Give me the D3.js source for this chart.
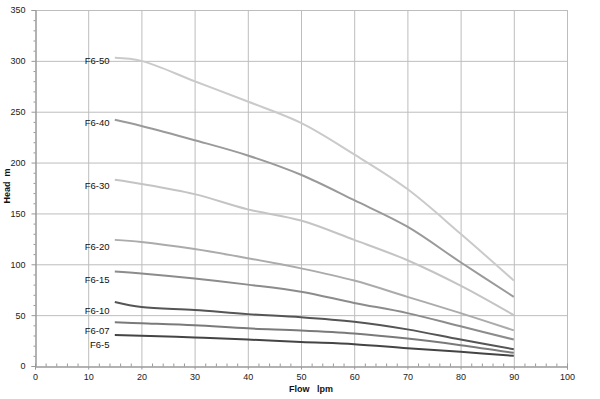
<!DOCTYPE html>
<html lang="en">
<head>
    <meta charset="UTF-8">
    <title>F6 pump curves</title>
    <style>
        body {
            margin: 0;
            background: #fff;
            font-family: "Liberation Sans", Arial, sans-serif;
        }

        .grid line {
            stroke: #bdbdbd;
            stroke-width: 1px;
        }

        .curve {
            fill: none;
            stroke-width: 2px;
        }

        .tick text {
            font-size: 9px;
            fill: #222;
        }

        .model {
            font-size: 9.5px;
            fill: #111;
            text-anchor: end;
        }

        .axis-title {
            font-size: 9px;
            font-weight: bold;
            fill: #111;
        }
    </style>
</head>
<body>
    <svg id="chart" width="600" height="399"></svg>

    <script src="https://d3js.org/d3.v7.min.js"></script>
    <script>
        // flow points (lpm) shared by every curve
        const flow = [15, 20, 30, 40, 50, 60, 70, 80, 90];

        const models = ["F6-50", "F6-40", "F6-30", "F6-20", "F6-15", "F6-10", "F6-07", "F6-5"];

        // head (m) at each flow point
        const headF650 = [303, 300, 280, 260, 239, 208, 174, 130, 84];
        const headF640 = [242, 236, 222, 207, 188, 163, 137, 102, 68];
        const headF630 = [183, 179, 169, 154, 143, 124, 104, 79, 50];
        const headF620 = [124, 122, 115, 106, 96, 84, 68, 52, 35];
        const headF615 = [93, 91, 86, 80, 73, 62, 52, 39, 26];
        const headF610 = [63, 58, 55, 51, 48, 43.5, 36, 26, 16.5];
        const headF607 = [43, 42, 40, 37, 35, 32, 27, 20.5, 13];
        const headF65 = [30.5, 29.8, 28, 26, 23.5, 21.5, 17.5, 14, 10];

        const heads = [headF650, headF640, headF630, headF620, headF615, headF610, headF607, headF65];
        const colors = ["#cacaca", "#9a9a9a", "#c4c4c4", "#ababab", "#8c8c8c", "#555555", "#7a7a7a", "#444444"];

        // where each label sits (head value at label baseline)
        const labelHead = [297, 236, 174, 114, 82, 51, 31, 18];

        const xTicks = d3.range(0, 101, 10);
        const yTicks = d3.range(0, 351, 50);

        const svg = d3.select("#chart");

        const x = d3.scaleLinear().domain([0, 100]).range([35, 567]);
        const y = d3.scaleLinear().domain([0, 350]).range([366, 10]);

        // grid
        const grid = svg.append("g").attr("class", "grid");
        grid.selectAll(".gx")
            .data(xTicks.slice(1))
            .enter()
            .append("line")
            .attr("x1", d => x(d) + 0.5).attr("x2", d => x(d) + 0.5)
            .attr("y1", y(0)).attr("y2", y(350));
        grid.selectAll(".gy")
            .data(yTicks.slice(1))
            .enter()
            .append("line")
            .attr("x1", x(0)).attr("x2", x(100))
            .attr("y1", d => y(d) + 0.5).attr("y2", d => y(d) + 0.5);

        // axes
        svg.append("g")
            .attr("transform", `translate(0,${y(0) + 0.5})`)
            .call(d3.axisBottom(x).tickValues(xTicks).tickSize(3).tickPadding(4));
        svg.append("g")
            .attr("transform", `translate(0,${y(0) + 0.5})`)
            .call(d3.axisTop(x).tickValues(d3.range(2, 100, 2).filter(d => d % 10)).tickSize(3).tickFormat(""));

        svg.append("g")
            .attr("transform", `translate(${x(0) + 0.5},0)`)
            .call(d3.axisLeft(y).tickValues(yTicks).tickSize(4).tickPadding(6));
        svg.append("g")
            .attr("transform", `translate(${x(0) + 0.5},0)`)
            .call(d3.axisLeft(y).tickValues(d3.range(10, 350, 10).filter(d => d % 50)).tickSize(2).tickFormat(""));

        svg.selectAll(".domain").attr("stroke", "#999");
        svg.selectAll(".tick line").attr("stroke", "#999");

        // curves
        const line = d3.line()
            .x((d, i) => x(flow[i]))
            .y(d => y(d))
            .curve(d3.curveCatmullRom.alpha(0.5));

        svg.selectAll(".curve")
            .data(heads)
            .enter()
            .append("path")
            .attr("class", "curve")
            .attr("stroke", (d, i) => colors[i])
            .attr("d", line);

        // model labels
        svg.selectAll(".model")
            .data(models)
            .enter()
            .append("text")
            .attr("class", "model")
            .attr("x", x(14))
            .attr("y", (d, i) => y(labelHead[i]))
            .text(d => d);

        // axis titles
        svg.append("text")
            .attr("class", "axis-title")
            .attr("x", 311)
            .attr("y", 392)
            .attr("text-anchor", "middle")
            .attr("xml:space", "preserve")
            .text("Flow   lpm");

        svg.append("text")
            .attr("class", "axis-title")
            .attr("transform", "translate(10,186) rotate(-90)")
            .attr("text-anchor", "middle")
            .attr("xml:space", "preserve")
            .text("Head  m");
    </script>
</body>
</html>
